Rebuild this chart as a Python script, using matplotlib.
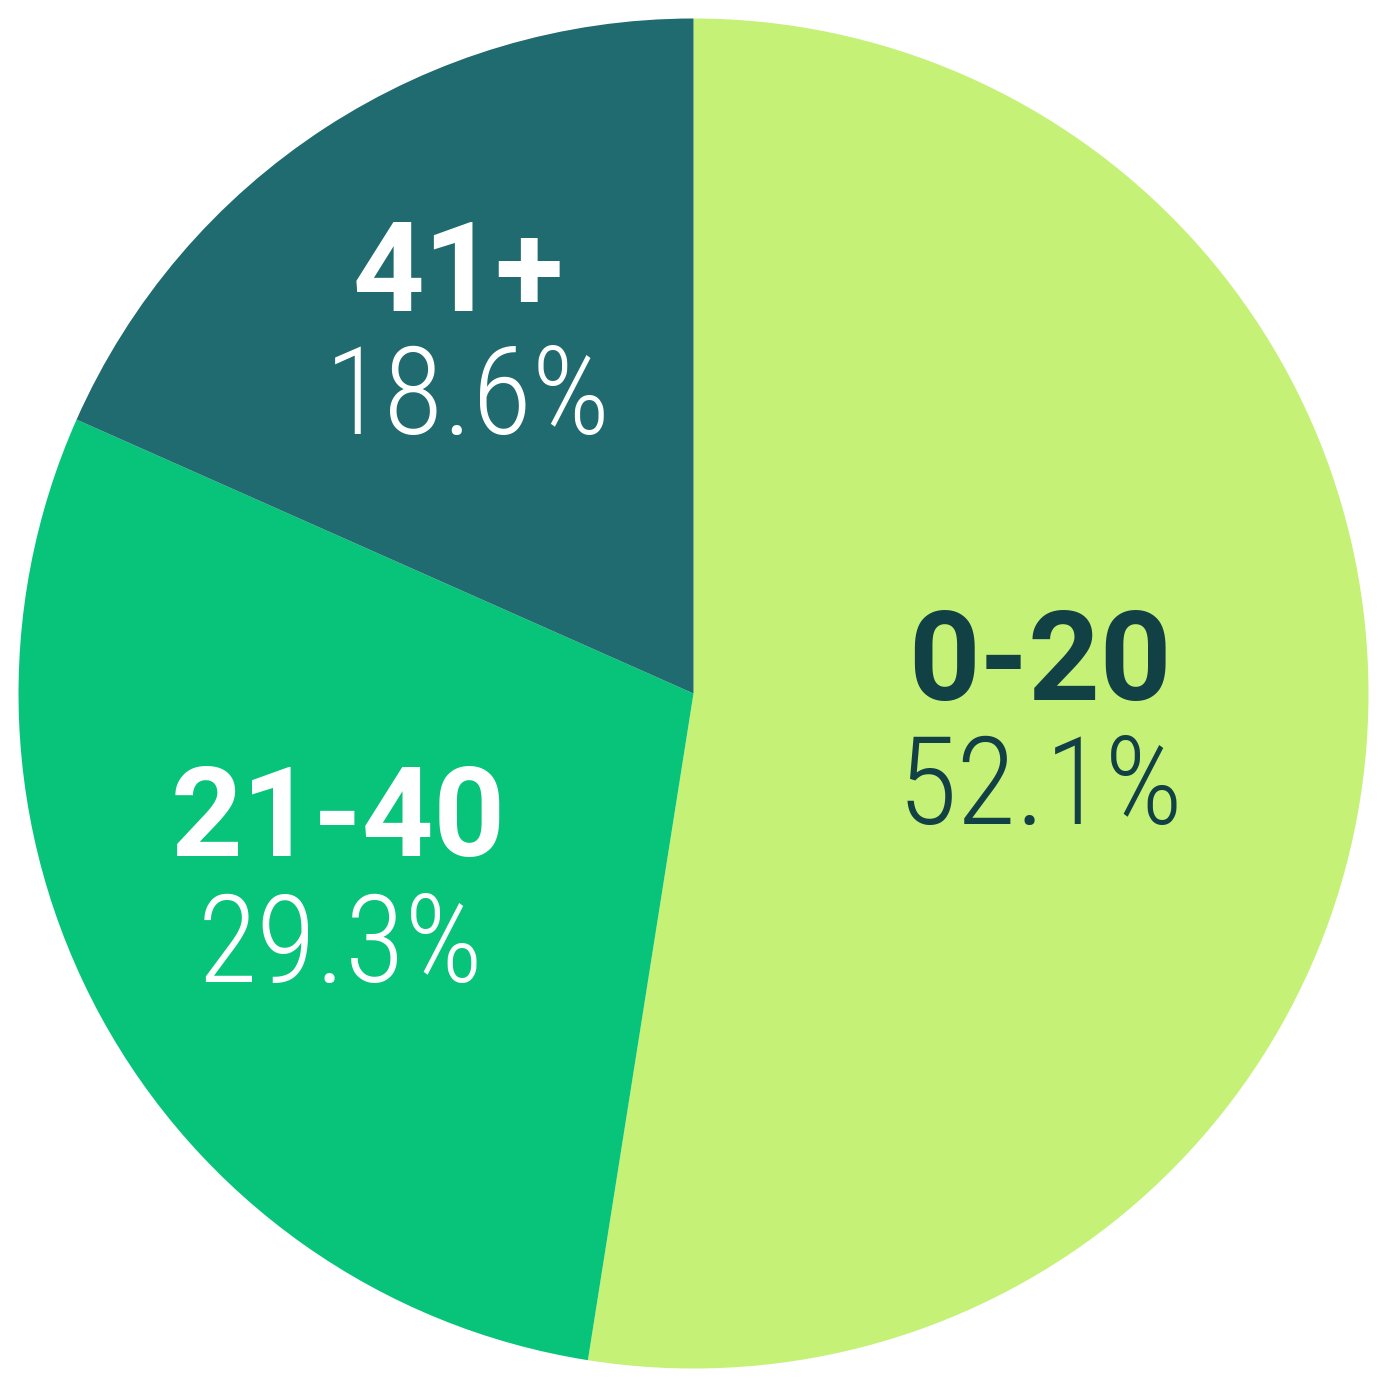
import matplotlib.pyplot as plt

labels = ['0-20', '21-40', '41+']
pct_labels = ['52.1%', '29.3%', '18.6%']
# wedge sizes as drawn (measured off the slice edges)
shares = [52.5, 29.15, 18.35]
colors = ['#C4F176', '#08C47B', '#1F6B6F']
text_colors = ['#114045', 'white', 'white']

# baseline anchors, in pie units (radius 1)
label_xy = [(0.513, -0.009), (-0.526, -0.241), (-0.348, 0.567)]
pct_xy = [(0.514, -0.193), (-0.523, -0.427), (-0.335, 0.384)]

fig = plt.figure(figsize=(13.87, 13.87), dpi=100)
ax = fig.add_axes([0, 0, 1, 1])

ax.pie(shares, colors=colors, startangle=90, counterclock=False,
       radius=1, center=(0, 0), wedgeprops=dict(linewidth=0))

for name, pct, (x, y), (px, py), tc in zip(labels, pct_labels, label_xy, pct_xy, text_colors):
    ax.text(x, y, name, ha='center', va='baseline', color=tc,
            fontsize=90, fontweight=700, family='Roboto')
    ax.text(px, py, pct, ha='center', va='baseline', color=tc,
            fontsize=88, fontweight=300, family='Roboto Condensed')

lim = 1387 / 2 / 675
ax.set_xlim(-lim, lim)
ax.set_ylim(-lim, lim)
ax.set_aspect('equal')
ax.axis('off')

fig.savefig('out.png', dpi=100)
